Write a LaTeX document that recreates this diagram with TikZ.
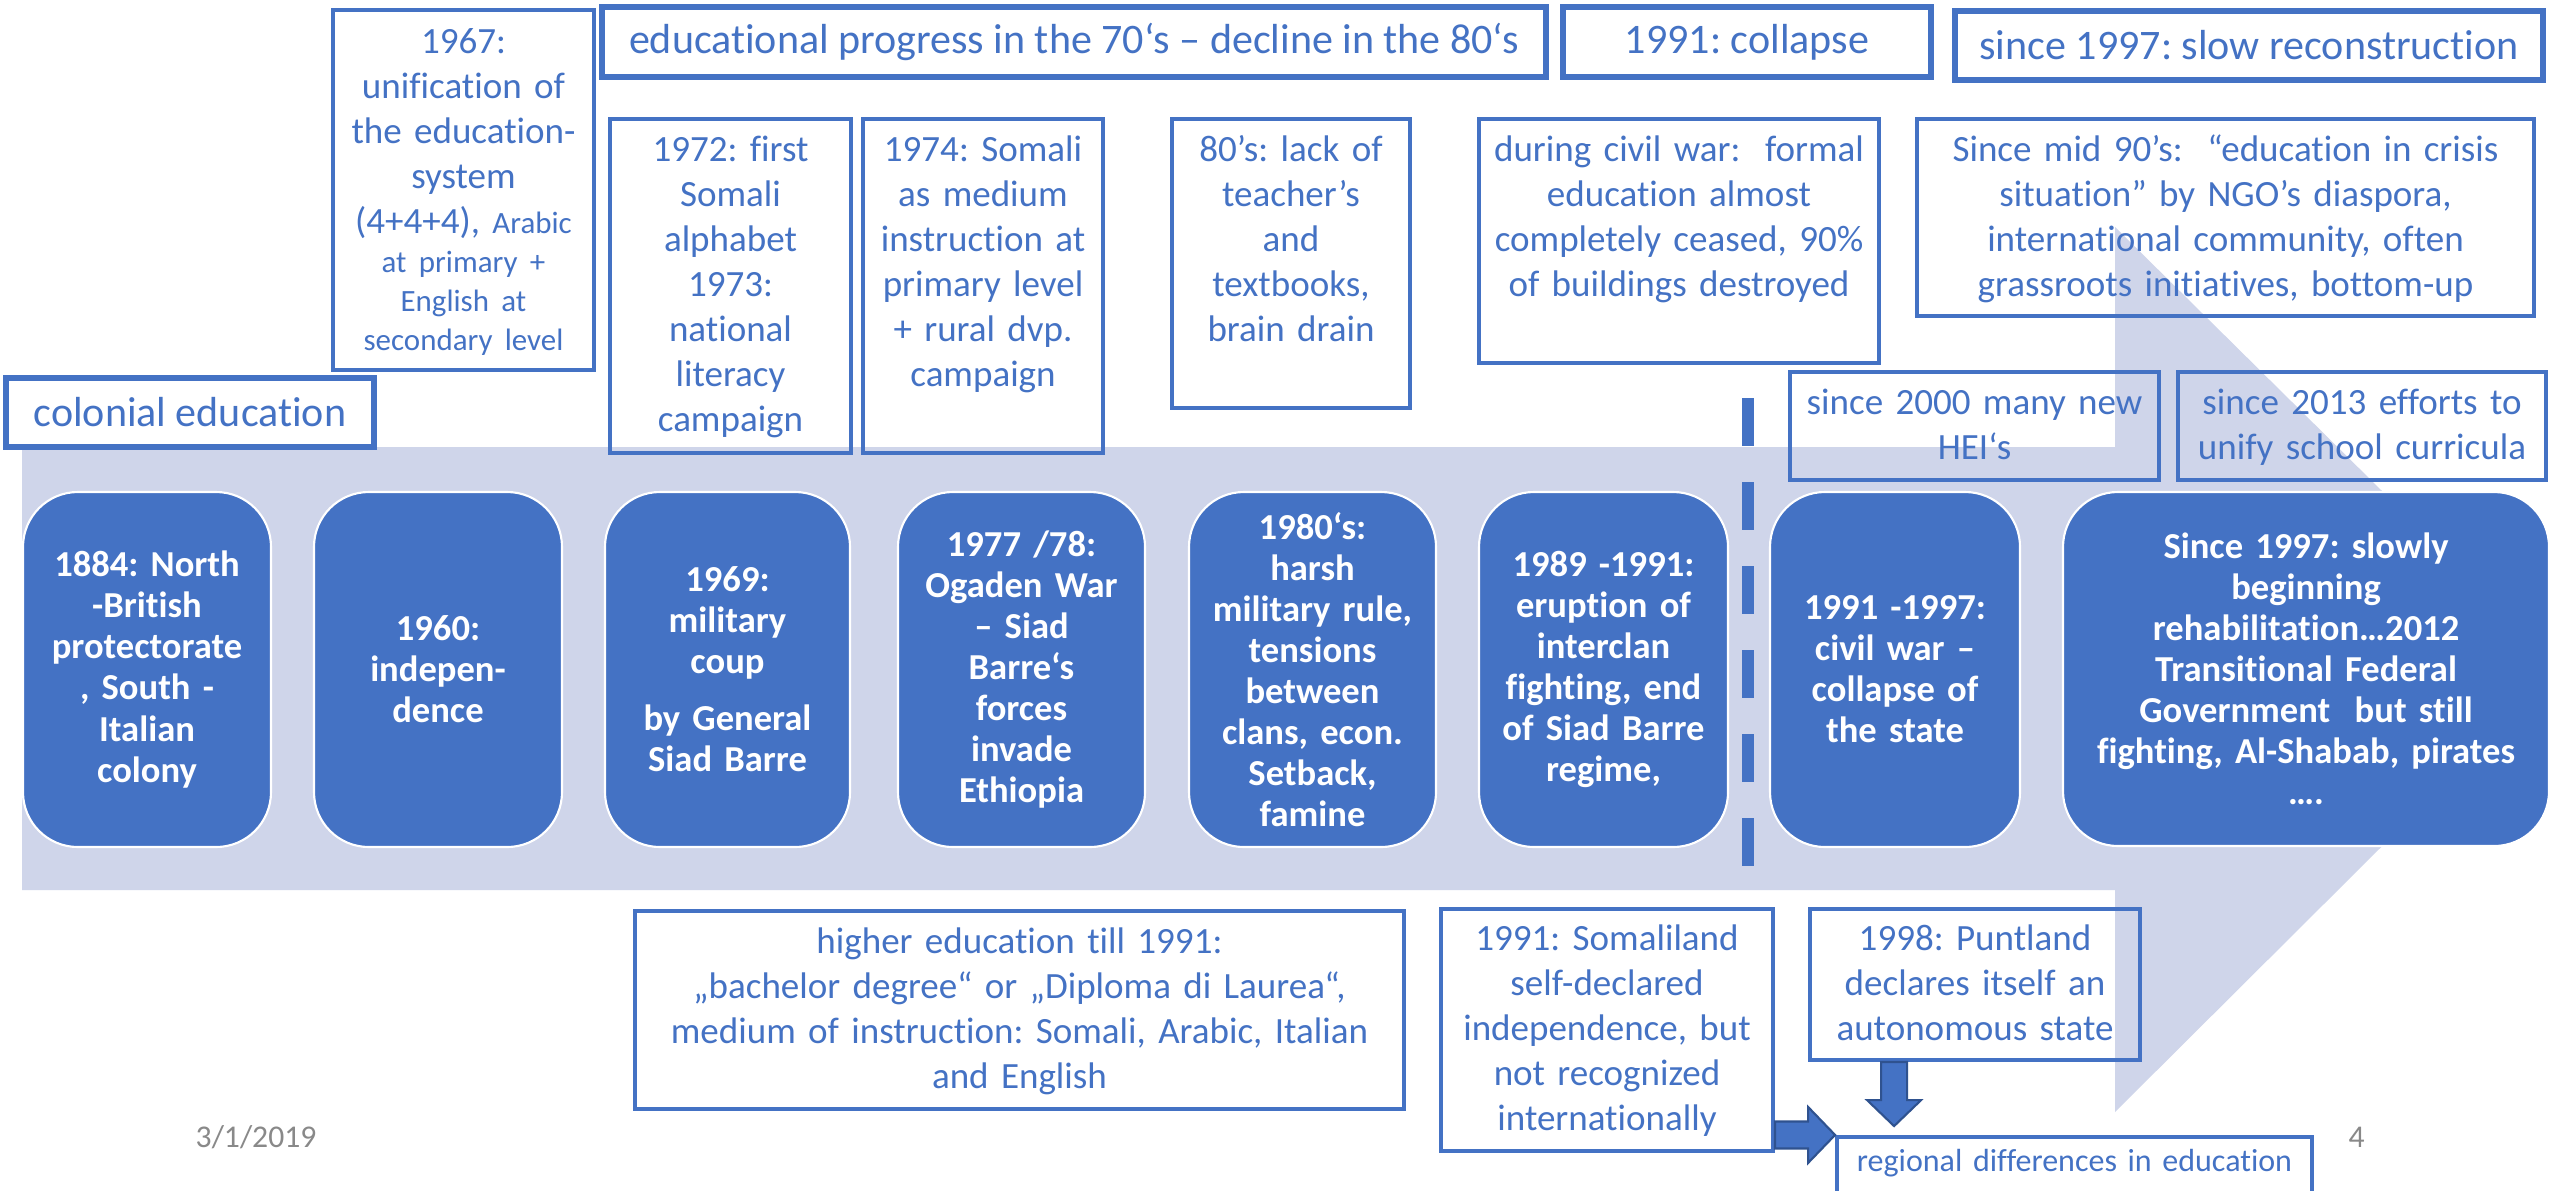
\documentclass[tikz,border=0pt]{standalone}
\usepackage{fontspec}
\setmainfont{Carlito}[Ligatures={NoCommon}]
\usetikzlibrary{fit,calc}
\definecolor{ob}{HTML}{4472C4}
\definecolor{bandc}{HTML}{CFD5EA}
\definecolor{dk}{HTML}{2F528F}
\definecolor{grc}{HTML}{898989}
\newcommand\smf{\fontsize{8.8}{11}\selectfont}
\frenchspacing
\tikzset{
  hbox/.style={draw=ob, line width=1.6pt, inner sep=0pt},
  cbox/.style={draw=ob, line width=1.1pt, inner sep=0pt},
  rbox/.style={fill=ob, draw=white, line width=0.6pt, rounded corners=15.6pt, inner sep=0pt},
  htext/.style={text=ob, inner sep=0pt, font=\fontsize{11.95}{14.6}\selectfont},
  ctext/.style={text=ob, inner sep=0pt, align=center, text width=9cm, font=\fontsize{10.53}{12.8}\selectfont},
  rtext/.style={text=white, inner sep=0pt, align=center, text width=6cm, font=\bfseries\fontsize{10.4}{11.67}\selectfont},
  barrow/.style={fill=ob, draw=dk, line width=0.6pt, line join=miter},
  datetext/.style={text=grc, inner sep=0pt, font=\fontsize{9}{11}\selectfont},
}
\begin{document}
\begin{tikzpicture}[x=0.01cm, y=-0.01cm]
\useasboundingbox (0,0) rectangle (2549,1190);
\fill[white] (0,0) rectangle (2549,1190);
\clip (0,0) rectangle (2549,1190);

% big background arrow
\fill[bandc] (22,447) -- (2115,447) -- (2115,227) -- (2561,668) -- (2115,1112) -- (2115,890) -- (22,890) -- cycle;

% header boxes
\node[hbox, fit={(602,7) (1546,77)}] (hEdu) {};
\node[htext] at (hEdu.center) {educational progress in the 70‘s – decline in the 80‘s};
\node[hbox, fit={(1563,7) (1931,77)}] (hCol) {};
\node[htext] at (hCol.center) {1991: collapse};
\node[hbox, fit={(1955,11) (2543,80)}] (hRec) {};
\node[htext] at (hRec.center) {since 1997: slow reconstruction};
\node[hbox, fit={(6,378) (374,447)}] (hColo) {};
\node[htext] at (hColo.center) {colonial education};

% upper content boxes
\node[cbox, fit={(333,10) (594,370)}] (b67) {};
\node[ctext, anchor=base] at ($(b67.north)+(0,45)$) {1967:\\ unification of\\ the education-\\ system\\ (4+4+4), {\smf Arabic}\\[-1.7pt] {\smf at primary +}\\[-1.7pt] {\smf English at}\\[-1.7pt] {\smf secondary level}};

\node[cbox, fit={(610,119) (851,453)}] (b72) {};
\node[ctext, anchor=base] at ($(b72.north)+(0,44)$) {1972: first\\ Somali\\ alphabet\\ 1973:\\ national\\ literacy\\ campaign};

\node[cbox, fit={(863,119) (1103,453)}] (b74) {};
\node[ctext, anchor=base] at ($(b74.north)+(0,44)$) {1974: Somali\\ as medium\\ instruction at\\ primary level\\ + rural dvp.\\ campaign};

\node[cbox, fit={(1172,119) (1410,408)}] (b80) {};
\node[ctext, anchor=base] at ($(b80.north)+(0,44)$) {80’s: lack of\\ teacher’s\\ and\\ textbooks,\\ brain drain};

\node[cbox, fit={(1479,119) (1879,363)}] (bcw) {};
\node[ctext, anchor=base] at ($(bcw.north)+(0,44)$) {during civil war:\ \ formal\\ education almost\\ completely ceased, 90\%\\ of buildings destroyed};

\node[cbox, fit={(1917,119) (2534,316)}] (b90) {};
\node[ctext, anchor=base] at ($(b90.north)+(0,44)$) {Since mid 90’s:\ \ “education in crisis\\ situation” by NGO’s diaspora,\\ international community, often\\ grassroots initiatives, bottom-up};

\node[cbox, fit={(1790,372) (2159,480)}] (b00) {};
\node[ctext, anchor=base] at ($(b00.north)+(0,44)$) {since 2000 many new\\ HEI‘s};

\node[cbox, fit={(2178,372) (2546,480)}] (b13) {};
\node[ctext, anchor=base] at ($(b13.north)+(0,44)$) {since 2013 efforts to\\ unify school curricula};

% dashed separator
\draw[ob, line width=3.41pt, dash pattern=on 13.66pt off 10.24pt] (1748,398) -- (1748,867);

% timeline rounded boxes
\node[rbox, fit={(23,492) (271,847)}] (r1) {};
\node[rtext] at (r1.center) {1884: North\\ -British\\ protectorate\\ , South -\\ Italian\\ colony};
\node[rbox, fit={(314,492) (562,847)}] (r2) {};
\node[rtext] at (r2.center) {1960:\\ indepen-\\ dence};
\node[rbox, fit={(605,492) (850,847)}] (r3) {};
\node[rtext] at (r3.center) {1969:\\ military\\ coup\\[4.5pt] by General\\ Siad Barre};
\node[rbox, fit={(898,492) (1145,847)}] (r4) {};
\node[rtext] at (r4.center) {1977 /78:\\ Ogaden War\\ – Siad\\ Barre‘s\\ forces\\ invade\\ Ethiopia};
\node[rbox, fit={(1189,492) (1436,847)}] (r5) {};
\node[rtext] at (r5.center) {1980‘s:\\ harsh\\ military rule,\\ tensions\\ between\\ clans, econ.\\ Setback,\\ famine};
\node[rbox, fit={(1479,492) (1728,847)}] (r6) {};
\node[rtext] at (r6.center) {1989 -1991:\\ eruption of\\ interclan\\ fighting, end\\ of Siad Barre\\ regime,};
\node[rbox, fit={(1770,492) (2020,847)}] (r7) {};
\node[rtext] at (r7.center) {1991 -1997:\\ civil war –\\ collapse of\\ the state};
\node[rbox, fit={(2063,492) (2549,846)}] (r8) {};
\node[rtext] at (r8.center) {Since 1997: slowly\\ beginning\\ rehabilitation…2012\\ Transitional Federal\\ Government\ \ but still\\ fighting, Al-Shabab, pirates\\ ….};

% lower boxes
\node[cbox, fit={(635,911) (1404,1109)}] (bhe) {};
\node[ctext, anchor=base] at ($(bhe.north)+(0,44)$) {higher education till 1991:\\ „bachelor degree“ or „Diploma di Laurea“,\\ medium of instruction: Somali, Arabic, Italian\\ and English};

\node[cbox, fit={(1441,909) (1773,1151)}] (bsl) {};
\node[ctext, anchor=base] at ($(bsl.north)+(0,43)$) {1991: Somaliland\\ self-declared\\ independence, but\\ not recognized\\ internationally};

\node[cbox, fit={(1810,909) (2140,1060)}] (bpl) {};
\node[ctext, anchor=base] at ($(bpl.north)+(0,43)$) {1998: Puntland\\ declares itself an\\ autonomous state};

\node[cbox, fit={(1837,1137) (2312,1210)}] (breg) {};
\node[ctext, anchor=base, font=\fontsize{9.1}{11}\selectfont] at ($(breg.north)+(0,36)$) {regional differences in education};

% block arrows
\coordinate (dA) at ($(bpl.south west)+(86,0)$);
\coordinate (dB) at ($(dA |- breg.north)+(0,-9)$);
\filldraw[barrow] ($(dA)+(-13,0)$) -- ($(dA)+(13,0)$) -- ($(dB)+(13,-26)$) -- ($(dB)+(27,-26)$) -- (dB) -- ($(dB)+(-27,-26)$) -- ($(dB)+(-13,-26)$) -- cycle;

\coordinate (rA) at ($(bsl.south east)+(0,-18)$);
\coordinate (rB) at (rA -| breg.west);
\filldraw[barrow] ($(rA)+(0,-13.5)$) -- ($(rB)+(-27,-13.5)$) -- ($(rB)+(-27,-28)$) -- (rB) -- ($(rB)+(-27,28)$) -- ($(rB)+(-27,13.5)$) -- ($(rA)+(0,13.5)$) -- cycle;

% footer
\node[datetext, anchor=base west] (date) at (195,1147) {3/1/2019};
\node[datetext, anchor=base west] (pnum) at (2348,1147) {4};
\end{tikzpicture}
\end{document}
